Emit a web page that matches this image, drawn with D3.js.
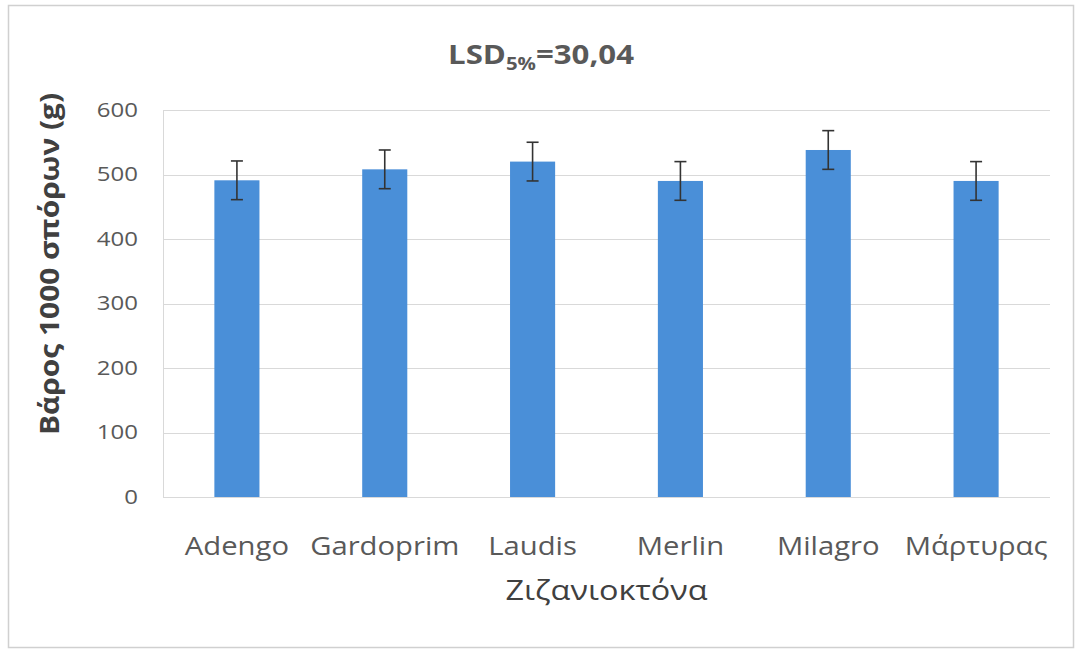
<!DOCTYPE html>
<html>
<head>
<meta charset="utf-8">
<script src="https://cdn.jsdelivr.net/npm/d3@7"></script>
<style>
  body { margin: 0; background: #fff; }
  svg { display: block; font-family: "Open Sans", "Noto Sans", sans-serif; }
  .grid line { stroke: #d9d9d9; stroke-width: 1; }
  .axis-title { fill: #404040; }
</style>
</head>
<body>
<div id="chart"></div>
<script>
// Dados
const herbicides = ["Adengo", "Gardoprim", "Laudis", "Merlin", "Milagro", "Μάρτυρας"];
const weights = [491, 508, 520, 490, 538, 490];
const errors = [30, 30, 30, 30, 30, 30];
const yTicks = [0, 100, 200, 300, 400, 500, 600];

const width = 1079, height = 650;
const plot = {left: 163, right: 1050, top: 110, bottom: 497};

const svg = d3.select("#chart")
  .append("svg")
  .attr("width", width)
  .attr("height", height);

// moldura do gráfico
svg.append("rect")
  .attr("x", 8.5).attr("y", 5.5)
  .attr("width", 1065).attr("height", 642)
  .attr("fill", "#fff")
  .attr("stroke", "#d0d0d0")
  .attr("stroke-width", 1.5);

// escalas
const x = d3.scaleBand()
  .domain(herbicides)
  .range([plot.left, plot.right])
  .paddingInner(0.695)
  .paddingOuter(0.3475);

const y = d3.scaleLinear()
  .domain([0, 600])
  .range([plot.bottom, plot.top]);

// linhas de grade
svg.append("g")
  .attr("class", "grid")
  .selectAll("line")
  .data(yTicks)
  .enter()
  .append("line")
  .attr("x1", plot.left)
  .attr("x2", plot.right)
  .attr("y1", d => Math.round(y(d)) + 0.5)
  .attr("y2", d => Math.round(y(d)) + 0.5);

// eixo vertical
svg.append("line")
  .attr("x1", plot.left + 0.5).attr("x2", plot.left + 0.5)
  .attr("y1", plot.top).attr("y2", plot.bottom)
  .attr("stroke", "#d9d9d9");

// eixo Y (só rótulos) - fonte mais larga, como no original
const yAxis = d3.axisLeft(y).tickValues(yTicks).tickSize(0).tickPadding(0);
svg.append("g")
  .attr("transform", "translate(138,0)")
  .call(yAxis)
  .call(g => g.select(".domain").remove())
  .selectAll("text")
  .attr("transform", "scale(1.2,1)")
  .style("font-size", "20px")
  .style("font-family", "'Open Sans', sans-serif")
  .style("fill", "#595959");

// eixo X (só rótulos)
const xAxis = d3.axisBottom(x).tickSize(0).tickPadding(0);
svg.append("g")
  .attr("transform", `translate(0,${plot.bottom})`)
  .call(xAxis)
  .call(g => g.select(".domain").remove())
  .selectAll("text")
  .attr("dy", null)
  .attr("y", 58)
  .attr("transform", "scale(1.17,1)")
  .style("font-size", "25px")
  .style("fill", "#595959")
  .style("font-family", "'Open Sans', sans-serif");

// barras
svg.append("g")
  .selectAll("rect")
  .data(herbicides)
  .enter()
  .append("rect")
  .attr("x", d => x(d))
  .attr("width", x.bandwidth())
  .attr("y", (d, i) => y(weights[i]))
  .attr("height", (d, i) => y(0) - y(weights[i]))
  .attr("fill", "#4a8fd8");

// barras de erro
const errG = svg.append("g")
  .attr("stroke", "#333")
  .attr("stroke-width", 1.6);
herbicides.forEach((d, i) => {
  const cx = x(d) + x.bandwidth() / 2;
  const top = y(weights[i] + errors[i]);
  const bot = y(weights[i] - errors[i]);
  errG.append("line").attr("x1", cx).attr("x2", cx).attr("y1", top).attr("y2", bot);
  errG.append("line").attr("x1", cx - 6).attr("x2", cx + 6).attr("y1", top).attr("y2", top);
  errG.append("line").attr("x1", cx - 6).attr("x2", cx + 6).attr("y1", bot).attr("y2", bot);
});

// título
const title = svg.append("text")
  .attr("transform", "translate(541,64) scale(1.2,1)")
  .attr("text-anchor", "middle")
  .attr("fill", "#595959")
  .attr("font-weight", "bold")
  .attr("font-size", 26);
title.append("tspan").text("LSD");
title.append("tspan").attr("font-size", 17).attr("dy", 6).text("5%");
title.append("tspan").attr("dy", -6).text("=30,04");

// título eixo Y
svg.append("text")
  .attr("class", "axis-title")
  .attr("transform", "translate(59,264) rotate(-90) scale(1.15,1)")
  .attr("text-anchor", "middle")
  .attr("font-weight", "bold")
  .attr("font-size", 26)
  .text("Βάρος 1000 σπόρων (g)");

// título eixo X
svg.append("text")
  .attr("class", "axis-title")
  .attr("transform", `translate(${(plot.left + plot.right) / 2},600) scale(1.2,1)`)
  .attr("text-anchor", "middle")
  .attr("font-size", 27)
  .text("Ζιζανιοκτόνα");
</script>
</body>
</html>
